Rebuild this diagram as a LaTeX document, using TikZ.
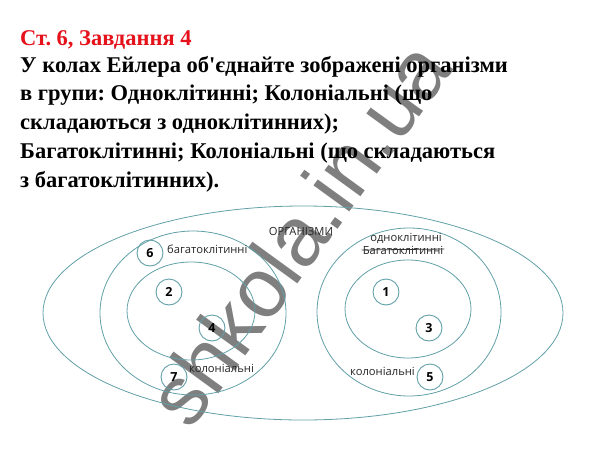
\documentclass[tikz,border=0pt]{standalone}
\usepackage{fontspec}
\setmainfont{Liberation Serif}[Ligatures=TeXOff]
\newfontfamily\labelfont{Open Sans}
\newfontfamily\markfont{Liberation Sans}
\usetikzlibrary{positioning}
\definecolor{ringcol}{HTML}{62A0A8}
\definecolor{titlered}{HTML}{E5121B}
\frenchspacing

\begin{document}
\begin{tikzpicture}[x=1pt,y=-1pt,
titleline/.style={anchor=base west, inner sep=0pt, font=\bfseries\fontsize{22.5}{26}\selectfont},
numnode/.style={circle, draw=ringcol, line width=0.9pt, minimum size=26pt, inner sep=0pt, font=\labelfont\bfseries\fontsize{12.5}{14}\selectfont},
grouplabel/.style={inner sep=1pt, text=black!85, font=\labelfont\fontsize{11.2}{13}\selectfont},
ring/.style={draw=ringcol, line width=0.8pt},
]
\useasboundingbox[fill=white] (0,0) rectangle (601,450);

%Watermark
\node[rotate=54, text=black, opacity=0.5, font=\markfont\fontsize{84}{84}\selectfont] (mark) at (298,233) {shkola.in.ua};

%Title
\node[titleline, text=titlered] (t1) at (20,45)  {Ст. 6, Завдання 4};
\node[titleline] (t2) at (20,72)  {У колах Ейлера об'єднайте зображені організми};
\node[titleline] (t3) at (20,100) {в групи: Одноклітинні; Колоніальні (що};
\node[titleline] (t4) at (20,129) {складаються з одноклітинних);};
\node[titleline] (t5) at (20,158) {Багатоклітинні; Колоніальні (що складаються};
\node[titleline] (t6) at (20,187) {з багатоклітинних).};

%Rings
\draw[ring] (303,313) ellipse [x radius=260pt, y radius=107pt];
\draw[ring] (193,313) ellipse [x radius=93pt, y radius=82pt];
\draw[ring] (191,311) ellipse [x radius=64pt, y radius=49pt];
\draw[ring] (409,312) ellipse [x radius=92pt, y radius=84pt];
\draw[ring] (408,309) ellipse [x radius=63pt, y radius=49pt];

%Organisms
\node[numnode] (n6) at (150,253) {6};
\node[numnode] (n2) at (169,292) {2};
\node[numnode] (n4) at (212,328) {4};
\node[numnode] (n7) at (174,377) {7};
\node[numnode] (n1) at (386,292) {1};
\node[numnode] (n3) at (429,328) {3};
\node[numnode] (n5) at (430,377) {5};

%Labels
\node[grouplabel] (org) at (301,231) {ОРГАНІЗМИ};
\node[grouplabel, anchor=west] (multi) at (166,249) {багатоклітинні};
\node[grouplabel, anchor=west] (colL) at (188,368) {колоніальні};
\node[grouplabel] (single) at (406,238) {одноклітинні};
\node[grouplabel] (strike) at (403,250) {Багатоклітинні};
\node[grouplabel, anchor=east] (colR) at (416,371) {колоніальні};
\draw[black!80, line width=0.8pt] (strike.west) -- ([yshift=1pt]strike.east);
\end{tikzpicture}
\end{document}
